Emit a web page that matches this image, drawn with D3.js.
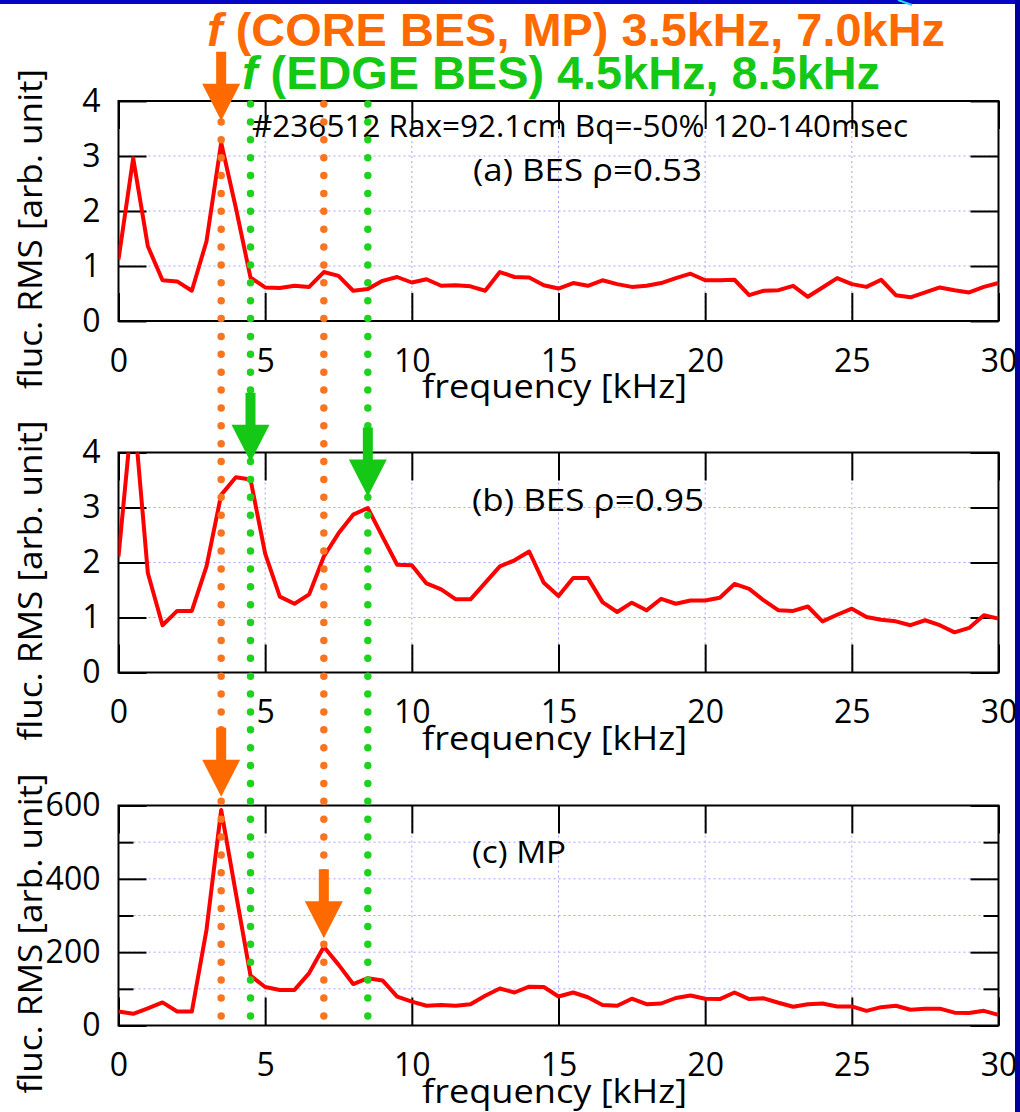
<!DOCTYPE html>
<html><head><meta charset="utf-8">
<script src="https://cdn.jsdelivr.net/npm/d3@7/dist/d3.min.js"></script>
<style>
html,body{margin:0;padding:0;background:#fff;}
svg{display:block;}
</style></head>
<body>
<script>
// ---------- data ----------
const freq = [0,0.5,1,1.5,2,2.5,3,3.5,4,4.5,5,5.5,6,6.5,7,7.5,8,8.5,9,9.5,10,10.5,11,11.5,12,12.5,13,13.5,14,14.5,15,15.5,16,16.5,17,17.5,18,18.5,19,19.5,20,20.5,21,21.5,22,22.5,23,23.5,24,24.5,25,25.5,26,26.5,27,27.5,28,28.5,29,29.5,30];
const besCore = [1.12,2.96,1.36,0.74,0.72,0.55,1.45,3.24,2.06,0.79,0.61,0.60,0.64,0.62,0.89,0.82,0.55,0.58,0.73,0.80,0.70,0.76,0.64,0.65,0.63,0.55,0.89,0.80,0.79,0.65,0.59,0.69,0.64,0.74,0.67,0.62,0.64,0.69,0.78,0.86,0.74,0.74,0.75,0.47,0.55,0.56,0.64,0.44,0.61,0.78,0.67,0.62,0.75,0.47,0.43,0.52,0.61,0.56,0.52,0.62,0.69];
const besEdge = [2.11,4.9,1.81,0.86,1.12,1.12,1.93,3.23,3.55,3.51,2.16,1.38,1.25,1.42,2.11,2.53,2.87,2.99,2.47,1.96,1.95,1.62,1.51,1.33,1.33,1.63,1.93,2.04,2.20,1.63,1.39,1.72,1.72,1.28,1.10,1.27,1.13,1.34,1.25,1.31,1.31,1.36,1.61,1.52,1.31,1.13,1.12,1.20,0.93,1.05,1.16,1.01,0.96,0.93,0.86,0.95,0.86,0.73,0.81,1.04,0.98];
const mp = [38,32,47,63,38,38,261,588,361,136,105,97,97,143,215,166,113,129,123,79,65,54,56,54,58,81,101,90,106,105,79,90,77,56,54,73,58,60,75,82,73,72,90,72,74,62,51,58,60,52,52,40,50,54,43,46,46,35,34,40,29];

const xTicks = [0,5,10,15,20,25,30];
const yTicksBes = [0,1,2,3,4];
const yTicksMp = [0,200,400,600];
const yMinorMp = [100,300,500];

const coreFreqs = [3.5, 7.0];   // orange markers
const edgeFreqs = [4.5, 8.5];   // green markers

const panelLabels = ["(a) BES \u03c1=0.53", "(b) BES \u03c1=0.95", "(c) MP"];
const titleCore = "(CORE BES, MP) 3.5kHz, 7.0kHz";
const titleEdge = "(EDGE BES) 4.5kHz, 8.5kHz";
const infoText = "#236512 Rax=92.1cm Bq=-50% 120-140msec";
const xLabel = "frequency [kHz]";
const yLabel = "fluc. RMS [arb. unit]";

// arrows: [panel index, frequency, tip value, colour key]
const arrows = [
  [0, 3.5, 3.64, "core"],
  [1, 4.5, 3.83, "edge"],
  [1, 8.5, 3.20, "edge"],
  [2, 3.5, 624, "core"],
  [2, 7.0, 238, "core"]
];

// ---------- layout ----------
const W = 1020, H = 1112;
const LEFT = 118.5, RIGHT = 998.5;
const panelTops = [101, 452.5, 805.5];
const PH = 220;
const ORANGE = "#ff6a00", ORANGE_DOT = "#f9741f", GREEN = "#16c816", GREEN_DOT = "#1ed21e";
const FONT = "'Open Sans', 'Noto Sans', sans-serif";

const svg = d3.select("body").append("svg").attr("width", W).attr("height", H);
svg.append("rect").attr("width", W).attr("height", H).attr("fill", "#fff");

const x = d3.scaleLinear().domain([0, 30]).range([LEFT, RIGHT]);

const panels = [
  {vals: besCore, dom: [0, 4], ticks: yTicksBes, minor: [], grid: [1, 2, 3], label: panelLabels[0]},
  {vals: besEdge, dom: [0, 4], ticks: yTicksBes, minor: [], grid: [1, 2, 3], label: panelLabels[1]},
  {vals: mp, dom: [0, 600], ticks: yTicksMp, minor: yMinorMp, grid: [100, 200, 300, 400, 500], label: panelLabels[2]}
];

const yScales = [];
panels.forEach((p, i) => {
  const top = panelTops[i], bot = top + PH;
  const y = d3.scaleLinear().domain(p.dom).range([bot, top]);
  yScales.push(y);
  const g = svg.append("g");

  // grid
  g.selectAll(".vg").data([5, 10, 15, 20, 25]).enter().append("line")
    .attr("x1", d => x(d)).attr("x2", d => x(d)).attr("y1", top).attr("y2", bot)
    .attr("stroke", "#a3a3ff").attr("stroke-width", 1).attr("stroke-dasharray", "2,3");
  g.selectAll(".hg").data(p.grid).enter().append("line")
    .attr("x1", LEFT).attr("x2", RIGHT).attr("y1", d => y(d)).attr("y2", d => y(d))
    .attr("stroke", "#a3a3ff").attr("stroke-width", 1).attr("stroke-dasharray", "2,3");

  // axes with inward ticks
  const styleAxis = sel => {
    sel.select(".domain").remove();
    sel.selectAll(".tick line").attr("stroke", "#000").attr("stroke-width", 2);
    sel.selectAll("text").attr("font-family", FONT).attr("font-size", 32).attr("fill", "#000");
  };
  g.append("g").attr("transform", `translate(0,${bot})`)
    .call(d3.axisBottom(x).tickValues(xTicks).tickSize(-28).tickPadding(28).tickFormat(d3.format("d")))
    .call(styleAxis);
  g.append("g").attr("transform", `translate(0,${top})`)
    .call(d3.axisTop(x).tickValues(xTicks).tickSize(-28).tickFormat(""))
    .call(styleAxis);
  g.append("g").attr("transform", `translate(${LEFT},0)`)
    .call(d3.axisLeft(y).tickValues(p.ticks).tickSize(-28).tickPadding(18).tickFormat(d3.format("d")))
    .call(styleAxis);
  g.append("g").attr("transform", `translate(${RIGHT},0)`)
    .call(d3.axisRight(y).tickValues(p.ticks).tickSize(-28).tickFormat(""))
    .call(styleAxis);
  if (p.minor.length) {
    g.append("g").attr("transform", `translate(${LEFT},0)`)
      .call(d3.axisLeft(y).tickValues(p.minor).tickSize(-15).tickFormat(""))
      .call(styleAxis);
    g.append("g").attr("transform", `translate(${RIGHT},0)`)
      .call(d3.axisRight(y).tickValues(p.minor).tickSize(-15).tickFormat(""))
      .call(styleAxis);
  }

  // frame
  g.append("rect").attr("x", LEFT).attr("y", top).attr("width", RIGHT - LEFT).attr("height", PH)
    .attr("fill", "none").attr("stroke", "#000").attr("stroke-width", 2);

  // data line (clipped)
  const cid = "clip" + i;
  svg.append("clipPath").attr("id", cid).append("rect")
    .attr("x", LEFT).attr("y", top).attr("width", RIGHT - LEFT).attr("height", PH);
  const line = d3.line().x((d, k) => x(freq[k])).y(d => y(d));
  g.append("path").datum(p.vals).attr("d", line).attr("clip-path", `url(#${cid})`)
    .attr("fill", "none").attr("stroke", "#ff0000").attr("stroke-width", 4)
    .attr("stroke-linejoin", "round");

  // labels
  g.append("text").attr("x", 554.5).attr("y", bot + 77).attr("text-anchor", "middle")
    .attr("font-family", FONT).attr("font-size", 32).attr("textLength", 265)
    .attr("lengthAdjust", "spacingAndGlyphs").text(xLabel);
  g.append("text").attr("transform", `translate(42,${top + PH / 2 + 18}) rotate(-90)`)
    .attr("text-anchor", "middle").attr("font-family", FONT).attr("font-size", 32)
    .attr("textLength", 320).attr("lengthAdjust", "spacingAndGlyphs").text(yLabel);
});

// panel annotation texts
const lbl = (t, xx, yy, len) => svg.append("text").attr("x", xx).attr("y", yy)
  .attr("font-family", FONT).attr("font-size", 31).attr("textLength", len)
  .attr("lengthAdjust", "spacingAndGlyphs").attr("fill", "#000").text(t);
lbl(infoText, 252, 137, 656);
lbl(panels[0].label, 473, 181, 229);
lbl(panels[1].label, 472, 511, 232);
lbl(panels[2].label, 472, 863, 94);

// dotted marker lines
const dotTop = 104, dotStep = 17.88, dotBottom = 1017;
const markerLines = [
  ...coreFreqs.map((f, k) => ({f, c: ORANGE_DOT, start: k === 0 ? dotTop + dotStep : dotTop})),
  ...edgeFreqs.map(f => ({f, c: GREEN_DOT, start: dotTop}))
];
svg.selectAll(".dots").data(markerLines).enter().append("line")
  .attr("x1", d => x(d.f)).attr("x2", d => x(d.f))
  .attr("y1", d => d.start).attr("y2", dotBottom)
  .attr("stroke", d => d.c).attr("stroke-width", 7.5)
  .attr("stroke-linecap", "round").attr("stroke-dasharray", `0 ${dotStep}`);

// arrows
arrows.forEach(([pi, f, v, key]) => {
  const cx = x(f), tip = yScales[pi](v);
  const base = tip - 37, stemTop = base - 32;
  const d = `M${cx - 5},${stemTop} L${cx + 5},${stemTop} L${cx + 5},${base} L${cx + 19},${base} L${cx},${tip} L${cx - 19},${base} L${cx - 5},${base} Z`;
  svg.append("path").attr("d", d).attr("fill", key === "core" ? ORANGE : GREEN);
});

// titles
const t1 = svg.append("text").attr("x", 207).attr("y", 46)
  .attr("font-family", "'Liberation Sans', Arial, sans-serif").attr("font-weight", "bold")
  .attr("font-size", 47).attr("fill", ORANGE).attr("textLength", 738).attr("lengthAdjust", "spacingAndGlyphs");
t1.append("tspan").attr("font-style", "italic").text("f");
t1.append("tspan").text(" " + titleCore);
const t2 = svg.append("text").attr("x", 242).attr("y", 89)
  .attr("font-family", "'Liberation Sans', Arial, sans-serif").attr("font-weight", "bold")
  .attr("font-size", 47).attr("fill", GREEN).attr("textLength", 638).attr("lengthAdjust", "spacingAndGlyphs");
t2.append("tspan").attr("font-style", "italic").text("f");
t2.append("tspan").text(" " + titleEdge);

// slide border
svg.append("rect").attr("x", 0).attr("y", 0).attr("width", W).attr("height", 4).attr("fill", "#0505c4");
svg.append("rect").attr("x", 1015).attr("y", 0).attr("width", 5).attr("height", H).attr("fill", "#00009c");
svg.append("line").attr("x1", 898).attr("y1", 0).attr("x2", 912).attr("y2", 5)
  .attr("stroke", "#22e0f0").attr("stroke-width", 2);
</script>
</body></html>
